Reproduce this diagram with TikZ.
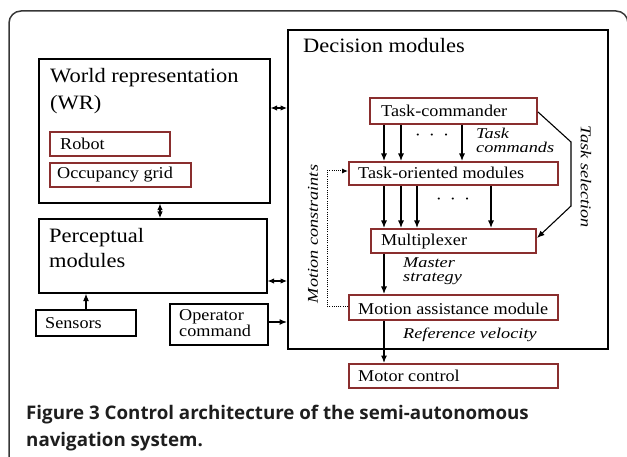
\documentclass[tikz,border=0pt]{standalone}
\usepackage{fontspec}
\setmainfont[FakeStretch=1.1]{Liberation Serif}
\newfontfamily\lblfont[FakeStretch=1.22]{Liberation Serif}
\newfontfamily\capfont{Open Sans}
\usetikzlibrary{arrows.meta}
\definecolor{modred}{RGB}{138,46,46}
\definecolor{framegray}{RGB}{55,55,55}
\definecolor{captext}{RGB}{30,30,30}
\tikzset{
  blk/.style={draw=black, line width=1.6bp, inner sep=0, anchor=north west},
  mod/.style={draw=modred, line width=2bp, inner sep=0, anchor=north west},
  txt/.style={anchor=base west, inner sep=0, font=\fontsize{16.6}{18}\selectfont},
  bigtxt/.style={anchor=base west, inner sep=0, font=\fontsize{20.5}{22}\selectfont},
  ittxt/.style={anchor=base west, inner sep=0, font=\lblfont\fontsize{15}{15}\selectfont\itshape},
  arr/.style={-{Latex[length=7.5bp,width=6bp]}, line width=1.2bp},
  dbl/.style={{Latex[length=6.5bp,width=5.5bp]}-{Latex[length=6.5bp,width=5.5bp]}, line width=1.1bp},
  dotline/.style={line width=1bp, dash pattern=on 1bp off 1.2bp},
  captiontxt/.style={anchor=base west, inner sep=0, text=captext, font=\capfont\bfseries\fontsize{18.8}{20}\selectfont}
}
\begin{document}
\begin{tikzpicture}[x=1bp, y=-1bp]
\useasboundingbox (0,0) rectangle (627,457);

% outer frame of the figure panel
\begin{scope}
  \clip (0,0) rectangle (627,457);
  \draw[framegray, line width=1.5bp, rounded corners=12bp] (9,11) rectangle (628,520);
\end{scope}

% left column
\node[blk, minimum width=231bp, minimum height=144bp] (wr) at (38,58) {};
\node[bigtxt] (wrt1) at (50,83) {World representation};
\node[bigtxt] (wrt2) at (50,110) {(WR)};
\node[mod, minimum width=120bp, minimum height=24bp] (robot) at (49,131) {};
\node[txt] (robott) at (60,150) {Robot};
\node[mod, minimum width=141bp, minimum height=24bp] (occ) at (49,162) {};
\node[txt] (occt) at (57,179) {Occupancy grid};

\node[blk, minimum width=228bp, minimum height=74bp] (perc) at (38,218) {};
\node[bigtxt] (perct1) at (49,243) {Perceptual};
\node[bigtxt] (perct2) at (49,268) {modules};

\node[blk, minimum width=100bp, minimum height=26bp] (sens) at (35,309) {};
\node[txt] (senst) at (45,328) {Sensors};
\node[blk, minimum width=98bp, minimum height=41bp] (oper) at (169,303) {};
\node[txt] (opert1) at (179,320) {Operator};
\node[txt] (opert2) at (179,336) {command};

% decision modules
\node[blk, minimum width=320bp, minimum height=319bp] (dec) at (287,29) {};
\node[bigtxt] (dect) at (303,53) {Decision modules};

\node[mod, minimum width=167bp, minimum height=26bp] (tc) at (369,97) {};
\node[txt] (tct) at (381,117) {Task-commander};
\node[mod, minimum width=209bp, minimum height=23bp] (to) at (348,161) {};
\node[txt] (tot) at (358,179) {Task-oriented modules};
\node[mod, minimum width=165bp, minimum height=24bp] (mx) at (370,228) {};
\node[txt] (mxt) at (381,246) {Multiplexer};
\node[mod, minimum width=209bp, minimum height=25bp] (ma) at (348,294) {};
\node[txt] (mat) at (358,314) {Motion assistance module};
\node[mod, minimum width=209bp, minimum height=24bp] (mc) at (348,363) {};
\node[txt] (mct) at (358,381) {Motor control};

% labels on the flows
\node[ittxt] (tcl1) at (476,139) {Task};
\node[ittxt] (tcl2) at (476,153) {commands};
\node[ittxt] (msl1) at (403,268) {Master};
\node[ittxt] (msl2) at (403,282) {strategy};
\node[ittxt] (rvl) at (403,338) {Reference velocity};
\node[ittxt, anchor=center, rotate=-90] (tsl) at (586,177) {Task selection};
\node[ittxt, anchor=center, rotate=90] (mcl) at (313,234) {Motion constraints};
\node[txt, anchor=center] (dots1) at (432,137) {·\hspace{8bp}·\hspace{8bp}·};
\node[txt, anchor=center] (dots2) at (453,201) {·\hspace{8bp}·\hspace{8bp}·};

% helper coordinates for connector positions
\coordinate (xa) at (384,0);
\coordinate (xb) at (401,0);
\coordinate (xc) at (417,0);
\coordinate (xd) at (462,0);
\coordinate (xe) at (491,0);
\coordinate (xs) at (86,0);
\coordinate (xv) at (160,0);
\coordinate (ya) at (0,108);
\coordinate (yb) at (0,281);
\coordinate (yc) at (0,322);
\coordinate (ts1) at (571,142);
\coordinate (ts2) at (571,206);
\coordinate (mc1) at (327,306);
\coordinate (mc2) at (327,171);

% connectors
\draw[dbl] (wr.east |- ya) -- (dec.west |- ya);
\draw[dbl] (xv |- wr.south) -- (xv |- perc.north);
\draw[dbl] (perc.east |- yb) -- (dec.west |- yb);
\draw[arr] (xs |- sens.north) -- (xs |- perc.south);
\draw[arr] (oper.east |- yc) -- (dec.west |- yc);

\foreach \c in {xa,xb,xd}
  \draw[arr] (\c |- tc.south) -- (\c |- to.north);
\foreach \c in {xa,xb,xc,xe}
  \draw[arr] (\c |- to.south) -- (\c |- mx.north);
\draw[arr] (xa |- mx.south) -- (xa |- ma.north);
\draw[arr] (xa |- ma.south) -- (xa |- mc.north);

\draw[arr, line width=1.1bp] (tc.east |- 0,112) -- (ts1) -- (ts2) -- (mx.east |- 0,238);
\draw[dotline] (ma.west |- mc1) -- (mc1) -- (mc2) -- ([xshift=-5bp]to.west |- mc2);
\draw[-{Latex[length=6bp,width=5bp]}, line width=1bp] ([xshift=-6bp]to.west |- mc2) -- (to.west |- mc2);

% caption
\node[captiontxt] (cap1) at (26,419) {Figure 3 Control architecture of the semi-autonomous};
\node[captiontxt] (cap2) at (26,446) {navigation system.};
\end{tikzpicture}
\end{document}
